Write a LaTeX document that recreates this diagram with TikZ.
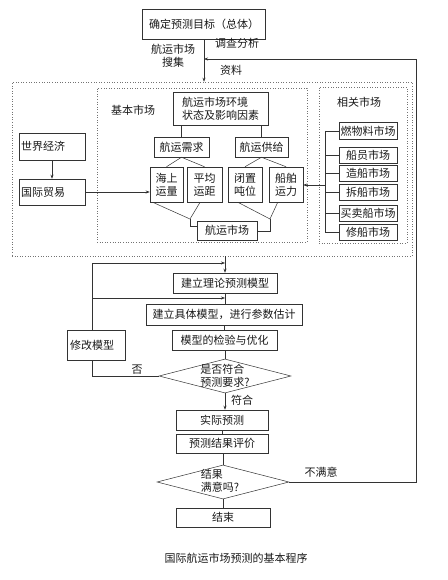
\documentclass[tikz,border=0pt]{standalone}
\usepackage{fontspec}
\setmainfont{Noto Sans CJK SC}
\usetikzlibrary{arrows.meta,shapes.geometric}
\begin{document}
\begin{tikzpicture}[x=1pt,y=-1pt,
  every node/.style={font=\fontsize{11}{13}\selectfont, inner sep=0pt, text=black!90},
  box/.style={draw=black!80, line width=0.5pt, rectangle, align=center},
  region/.style={draw=black!55, dotted, line width=0.6pt, rectangle},
  conn/.style={draw=black!80, line width=0.5pt},
  arr/.style={conn, -{Stealth[length=4pt,width=3pt]}},
  dia/.style={draw=black!80, line width=0.5pt, diamond, minimum width=132pt, minimum height=34pt}
]
\useasboundingbox (0,0) rectangle (447,580);
% top
\node[box, minimum width=123pt, minimum height=30pt] (goal) at (204,24) {确定预测目标（总体）};
\node[align=center] (l1) at (173,56) {航运市场\\搜集};
\node (l2) at (237,43) {调查分析};
\node (l3) at (231,70) {资料};
% regions
\node[region, minimum width=400pt, minimum height=174pt] (outer) at (212,169) {};
\node[region, minimum width=210pt, minimum height=154pt] (basic) at (202,165) {};
\node[region, minimum width=88pt, minimum height=156pt] (related) at (363,165) {};
\node (lbasic) at (133,110) {基本市场};
\node (lrel) at (359,102) {相关市场};
% basic market
\node[box, align=left, minimum width=95pt, minimum height=33pt] (env) at (220.5,108.5) {航运市场环境\\状态及影响因素};
\node[box, minimum width=55pt, minimum height=20pt] (xuqiu) at (181.5,147) {航运需求};
\node[box, minimum width=53pt, minimum height=20pt] (gongji) at (261.5,147) {航运供给};
\node[box, minimum width=33pt, minimum height=35pt] (haishang) at (166.5,184.5) {海上\\运量};
\node[box, minimum width=35pt, minimum height=35pt] (pingjun) at (204.5,184.5) {平均\\运距};
\node[box, minimum width=34pt, minimum height=35pt] (xianzhi) at (245,184.5) {闭置\\吨位};
\node[box, minimum width=34pt, minimum height=35pt] (chuanbo) at (286,184.5) {船舶\\运力};
\node[box, minimum width=60pt, minimum height=19pt] (hsm) at (227,230.5) {航运市场};
% world
\node[box, align=left, minimum width=66pt, minimum height=27pt, text width=62pt] (world) at (52,146.5) {世界经济};
\node[box, align=left, minimum width=66pt, minimum height=26pt, text width=62pt] (trade) at (52,192) {国际贸易};
% related
\node[box, minimum width=58pt, minimum height=17pt] (fuel) at (368,131) {燃物料市场};
\node[box, minimum width=58pt, minimum height=16pt] (crew) at (368,155) {船员市场};
\node[box, minimum width=58pt, minimum height=16pt] (build) at (368,173) {造船市场};
\node[box, minimum width=58pt, minimum height=16pt] (scrap) at (368,192) {拆船市场};
\node[box, minimum width=58pt, minimum height=16pt] (sale) at (368,213) {买卖船市场};
\node[box, minimum width=58pt, minimum height=16pt] (repair) at (368,232) {修船市场};
% lower flow
\node[box, minimum width=104pt, minimum height=20pt] (lilun) at (225,283) {建立理论预测模型};
\node[box, minimum width=156pt, minimum height=21pt] (juti) at (224,314.5) {建立具体模型，进行参数估计};
\node[box, minimum width=105pt, minimum height=20pt] (jianyan) at (224.5,340) {模型的检验与优化};
\node[box, align=left, minimum width=58pt, minimum height=30pt, text width=52pt] (xiugai) at (96,345) {修改模型};
\node[dia] (d1) at (225,376) {};
\node[align=left] (d1t) at (225,376) {是否符合\\预测要求?};
\node[box, minimum width=92pt, minimum height=20pt] (shiji) at (222,420) {实际预测};
\node[box, minimum width=92pt, minimum height=19pt] (pingjia) at (222,443.5) {预测结果评价};
\node[dia] (d2) at (223,482) {};
\node[align=left] (d2t) at (220,481) {结果\\满意吗?};
\node[box, minimum width=94pt, minimum height=19pt] (end) at (223,517.5) {结束};
\node (no) at (137,370) {否};
\node (yes) at (242,400) {符合};
\node (bmy) at (321,472) {不满意};
\node (cap) at (236,558) {国际航运市场预测的基本程序};
% coordinates
\coordinate (fbc) at (416,59);
\coordinate (jl) at (190,219);
\coordinate (jl2) at (190,226);
\coordinate (jr) at (270,219);
\coordinate (jr2) at (270,231);
\coordinate (busTop) at (325,131);
\coordinate (busBot) at (325,232);
\coordinate (busMid) at (325,185);
\coordinate (lp1) at (92,263);
\coordinate (lp2) at (92,298);
\coordinate (lp3) at (92,376);
% connectors top
\draw[arr] (goal.south) -- (goal.south |- outer.north);
\draw[arr] (d2.east) -- (d2.east -| fbc) -- (fbc) -- (fbc -| goal.south);
% basic market connectors
\draw[conn] (env.south -| xuqiu.north) -- (xuqiu.north);
\draw[conn] (env.south -| gongji.north) -- (gongji.north);
\draw[conn] (haishang.north) -- (xuqiu.south) -- (pingjun.north);
\draw[conn] (xianzhi.north) -- (gongji.south) -- (chuanbo.north);
\draw[conn] (haishang.232) -- (jl) -- (pingjun.256);
\draw[conn] (jl) -- (jl2) -- (jl2 -| hsm.west);
\draw[conn] (xianzhi.248) -- (jr) -- (chuanbo.245);
\draw[conn] (jr) -- (jr2) -- (jr2 -| hsm.east);
\draw[arr] (world) -- (trade);
\draw[arr] (trade.east) -- (trade.east -| haishang.west);
% related bus
\draw[conn] (busTop) -- (busBot);
\foreach \m in {fuel,crew,build,scrap,sale,repair} \draw[conn] (\m.west) -- (\m.west -| busTop);
\draw[arr] (busMid) -- (busMid -| chuanbo.east);
% lower connectors
\draw[arr] (lilun.north |- outer.south) -- (lilun.north);
\draw[conn] (lilun.south) -- (lilun.south |- juti.north);
\draw[conn] (jianyan.north |- juti.south) -- (jianyan.north);
\draw[conn] (jianyan.south) -- (jianyan.south -| d1.north) -- (d1.north);
\draw[arr] (lp1 |- xiugai.north) -- (lp1) -- (lp1 -| lilun.north);
\draw[arr] (lp2) -- (lp2 -| lilun.north);
\draw[conn] (d1.west) -- (lp3) -- (lp3 |- xiugai.south);
\draw[arr] (d1.south) -- (d1.south |- shiji.north);
\draw[conn] (shiji.south) -- (pingjia.north);
\draw[conn] (pingjia.south) -- (pingjia.south -| d2.north) -- (d2.north);
\draw[conn] (d2.south) -- (end.north);
\end{tikzpicture}
\end{document}
